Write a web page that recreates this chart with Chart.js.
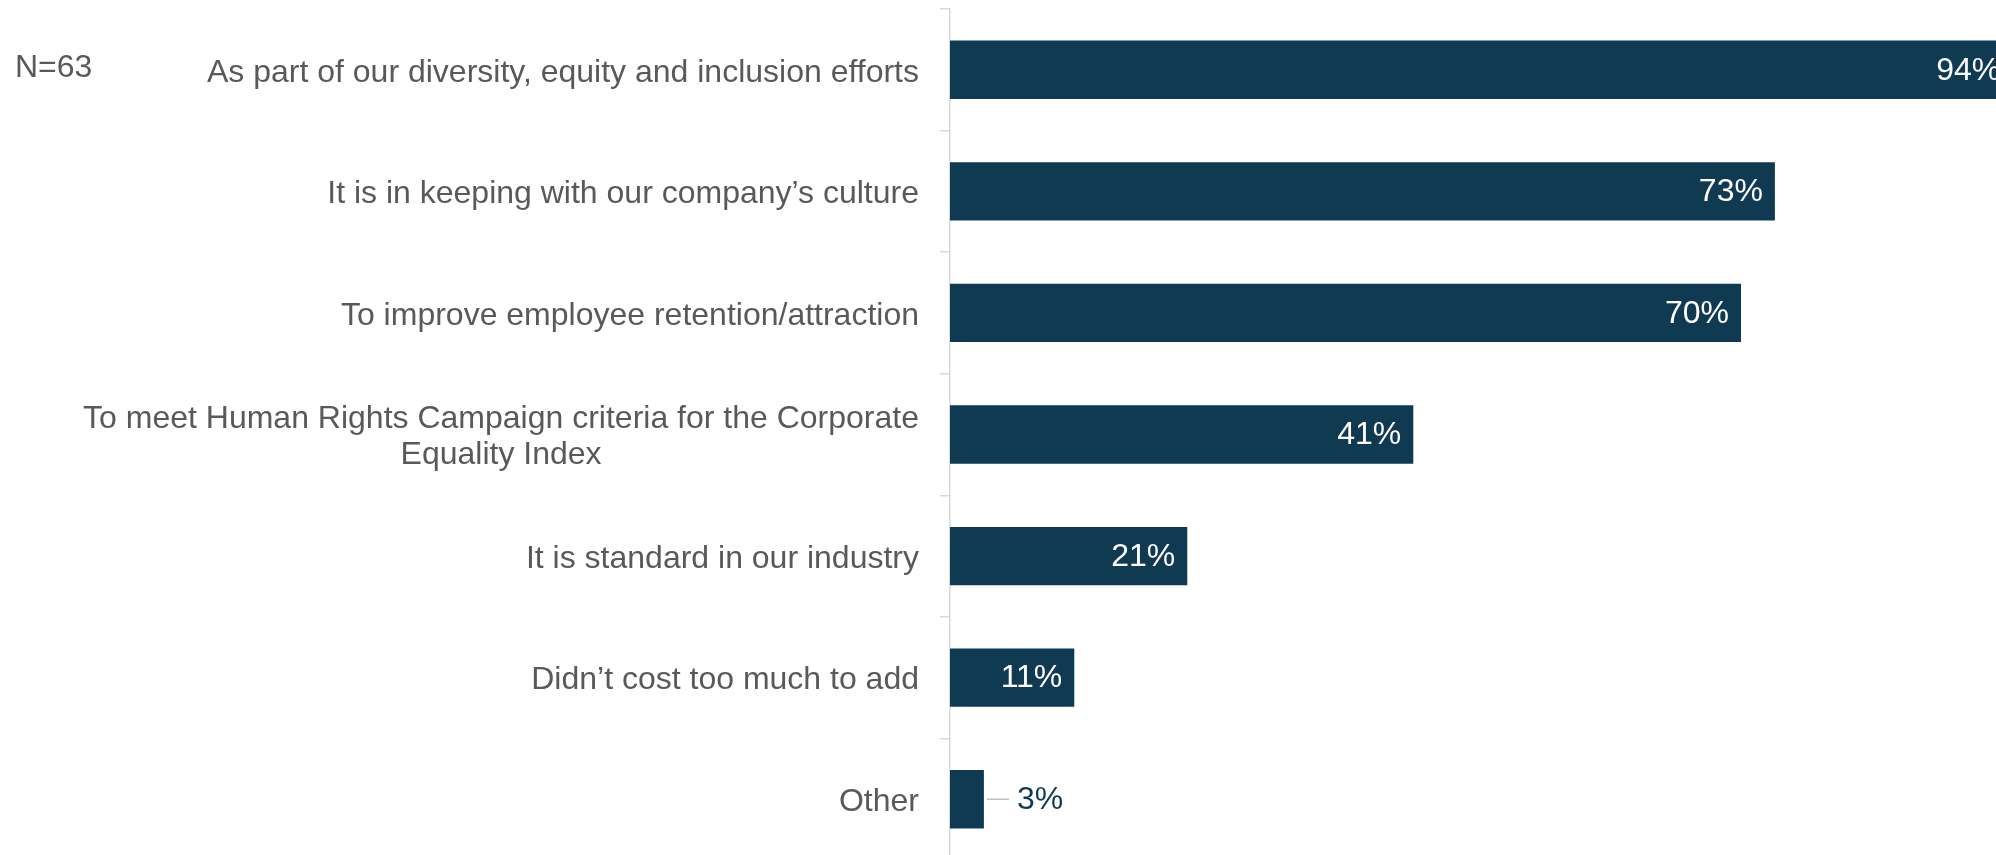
<!DOCTYPE html>
<html>
<head>
<meta charset="utf-8">
<script src="https://cdn.jsdelivr.net/npm/chart.js@4"></script>
<style>
    html, body { margin: 0; padding: 0; background: #ffffff; overflow: hidden; width: 1996px; height: 855px; }
    #chart { display: block; }
</style>
</head>
<body>
<canvas id="chart" width="2100" height="870"></canvas>
<script>
// chart data
var reasons = [
    'As part of our diversity, equity and inclusion efforts',
    'It is in keeping with our company\u2019s culture',
    'To improve employee retention/attraction',
    ['To meet Human Rights Campaign criteria for the Corporate', 'Equality Index'],
    'It is standard in our industry',
    'Didn\u2019t cost too much to add',
    'Other'
];
var shares = [94, 73, 70, 41, 21, 11, 3];
var sampleNote = 'N=63';

var navy = '#0f3a52';
var grey = '#595959';
var fontFamily = '"Liberation Sans", Arial, sans-serif';

// category labels, right aligned block, lines centred inside it
var categoryLabels = {
    id: 'categoryLabels',
    afterDraw: function (chart) {
        var ctx = chart.ctx;
        var yScale = chart.scales.y;
        var right = chart.chartArea.left - 31;
        var lineHeight = 36;
        ctx.save();
        ctx.font = '32px ' + fontFamily;
        ctx.fillStyle = grey;
        ctx.textAlign = 'center';
        ctx.textBaseline = 'middle';
        reasons.forEach(function (label, i) {
            var lines = Array.isArray(label) ? label : [label];
            var widest = 0;
            lines.forEach(function (l) { widest = Math.max(widest, ctx.measureText(l).width); });
            var y = yScale.getPixelForValue(i) + 3;
            var start = y - (lines.length - 1) * lineHeight / 2;
            lines.forEach(function (l, j) {
                ctx.fillText(l, right - widest / 2, start + j * lineHeight);
            });
        });
        ctx.textAlign = 'left';
        ctx.fillText(sampleNote, 15, 68);
        ctx.restore();
    }
};

// value labels at the bar ends
var valueLabels = {
    id: 'valueLabels',
    afterDatasetsDraw: function (chart) {
        var ctx = chart.ctx;
        var meta = chart.getDatasetMeta(0);
        ctx.save();
        ctx.font = '32px ' + fontFamily;
        ctx.textBaseline = 'middle';
        meta.data.forEach(function (bar, i) {
            var text = shares[i] + '%';
            if (shares[i] >= 8) {
                ctx.fillStyle = '#ffffff';
                ctx.textAlign = 'right';
                ctx.fillText(text, bar.x - 12, bar.y + 1);
            } else {
                ctx.strokeStyle = '#bfbfbf';
                ctx.lineWidth = 1.5;
                ctx.beginPath();
                ctx.moveTo(bar.x + 3, bar.y);
                ctx.lineTo(bar.x + 25, bar.y);
                ctx.stroke();
                ctx.fillStyle = navy;
                ctx.textAlign = 'left';
                ctx.fillText(text, bar.x + 33, bar.y + 1);
            }
        });
        ctx.restore();
    }
};

var ctx = document.getElementById('chart');
var myChart = new Chart(ctx, {
    type: 'bar',
    data: {
        labels: reasons,
        datasets: [{
            data: shares,
            backgroundColor: navy,
            borderWidth: 0,
            barPercentage: 0.48,
            categoryPercentage: 1
        }]
    },
    options: {
        indexAxis: 'y',
        responsive: false,
        animation: false,
        devicePixelRatio: 1,
        layout: { padding: { top: 9, right: 20, bottom: 10, left: 0 } },
        plugins: {
            legend: { display: false },
            tooltip: { enabled: false },
            title: { display: false }
        },
        scales: {
            x: {
                display: false,
                min: 0,
                max: 100
            },
            y: {
                afterFit: function (scale) { scale.width = 950; },
                grid: {
                    offset: true,
                    drawOnChartArea: false,
                    drawTicks: true,
                    tickLength: 10,
                    color: '#d9d9d9',
                    lineWidth: 1.5
                },
                border: { display: true, color: '#d9d9d9', width: 1.5 },
                ticks: { display: false }
            }
        }
    },
    plugins: [categoryLabels, valueLabels]
});
</script>
</body>
</html>
